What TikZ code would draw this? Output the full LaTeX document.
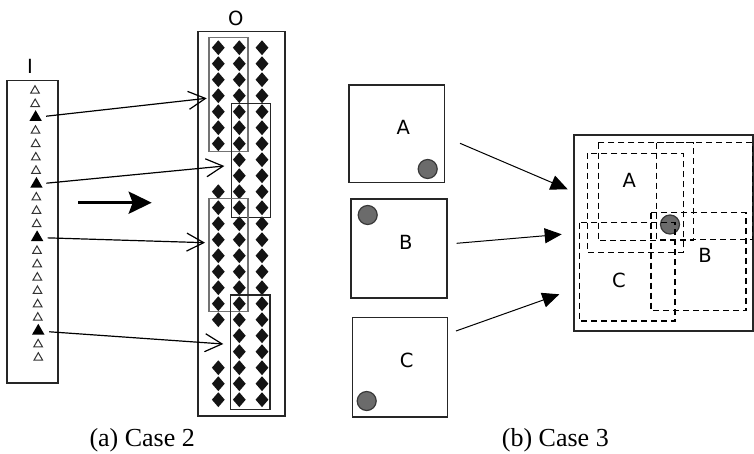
\documentclass[tikz,border=0pt]{standalone}
\usepackage{fontspec}
\setmainfont{Liberation Serif}
\newfontfamily\lblfont{DejaVu Sans}
\usetikzlibrary{arrows.meta,shapes.geometric}

\begin{document}
\begin{tikzpicture}[x=1pt,y=-1pt,
  frame/.style={draw=black!85,line width=1.6pt},
  opentri/.style={regular polygon,regular polygon sides=3,draw=black!80,line width=1pt,minimum size=10pt,inner sep=0pt},
  filltri/.style={regular polygon,regular polygon sides=3,fill=black,minimum size=14.4pt,inner sep=0pt},
  dia/.style={diamond,fill=black!92,minimum width=13pt,minimum height=15pt,inner sep=0pt},
  grayrect/.style={draw=black!55,line width=1.1pt},
  darkrect/.style={draw=black!85,line width=1.1pt},
  link/.style={line width=1.2pt,-{Straight Barb[length=17pt,width=18pt,line width=1.2pt]}},
  bigarrow/.style={line width=3.3pt,-{Stealth[length=23pt,width=22pt,inset=4pt]}},
  merge/.style={line width=1pt,-{Triangle[length=17pt,width=15pt]}},
  win/.style={draw=black,line width=1.4pt,dash pattern=on 6pt off 4pt},
  dot/.style={circle,fill=black!58,draw=black!78,line width=1.2pt,minimum size=19pt,inner sep=0pt},
  lbl/.style={font=\lblfont\fontsize{19.5}{20}\selectfont,inner sep=0pt},
  caption/.style={font=\fontsize{26}{28}\selectfont,anchor=base west,inner sep=0pt}
]
\useasboundingbox (0,0) rectangle (754,454);

% ---------- (a) Case 2 ----------
% input column I
\node[lbl] (lblI) at (30,66) {I};
\draw[frame] (7,80.7) rectangle (58,383);
\foreach \i in {0,1,3,4,5,6,8,9,10,12,13,14,15,16,17,19,20}{
  \pgfmathsetmacro\ty{90.7+13.35*\i}
  \pgfmathsetmacro\tx{35+0.165*\i}
  \node[opentri] (tri-\i) at (\tx,\ty) {};
}
\foreach \i in {2,7,11,18}{
  \pgfmathsetmacro\ty{90.7+13.35*\i}
  \pgfmathsetmacro\tx{35.3+0.165*\i}
  \node[filltri] (tri-\i) at (\tx,\ty) {};
}

% output block O
\node[lbl] (lblO) at (235.7,18) {O};
\draw[frame] (197.7,31.7) rectangle (285,416);
\foreach \r in {0,...,6,9,10,...,17,20,21,22}{
  \node[dia] (d-1-\r) at (218.3,47.7+16*\r) {};
}
\foreach \c/\cx in {2/239.3,3/262}{
  \foreach \r in {0,...,22}{
    \node[dia] (d-\c-\r) at (\cx,47.7+16*\r) {};
  }
}
\draw[grayrect] (209,37.7) rectangle (248,151.7);
\draw[darkrect] (231.3,103.3) rectangle (270.3,217.3);
\draw[grayrect] (209,198.3) rectangle (248,311.7);
\draw[darkrect] (230.3,295) rectangle (270,409.3);

% mapping arrows
\coordinate (t1) at (206.7,98.3);
\coordinate (t2) at (224.3,166);
\coordinate (t3) at (205,242.7);
\coordinate (t4) at (223.3,344);
\draw[link,shorten <=10.5pt] (tri-2.center) -- (t1);
\draw[link,shorten <=10pt] (tri-7.center) -- (t2);
\draw[link,shorten <=10.5pt] (tri-11.center) -- (t3);
\draw[link,shorten <=11pt] (tri-18.center) -- (t4);

\coordinate (bs) at (78.3,202.7);
\coordinate (be) at (151.7,202.7);
\draw[bigarrow] (bs) -- (be);

\node[caption] (capA) at (89.3,446.7) {(a) Case 2};

% ---------- (b) Case 3 ----------
\draw[frame] (349,85) rectangle (444.3,182.7);
\node[lbl] (lblA) at (403.3,127.3) {A};
\node[dot] (dotA) at (427.7,169) {};

\draw[frame] (351,199.3) rectangle (446.7,297.7);
\node[lbl] (lblB) at (405.7,242.7) {B};
\node[dot] (dotB) at (367.7,215) {};

\draw[frame] (352.3,317.3) rectangle (447.3,416.7);
\node[lbl] (lblC) at (406.7,360.7) {C};
\node[dot] (dotC) at (366.7,401) {};

% merged view
\draw[frame] (574,135) rectangle (753,331);
\node[dot] (dotM) at (670,224.5) {};
\draw[win] (598.3,142.7) rectangle (693.3,240.7);
\draw[win] (656.7,142.7) rectangle (752.7,239.3);
\draw[win] (587.3,153.3) rectangle (683.3,252.3);
\draw[win] (651,212.7) rectangle (746,310.7);
\draw[win] (579.3,222.7) rectangle (675,321);
\node[lbl] (mA) at (629.3,180.7) {A};
\node[lbl] (mB) at (705,255) {B};
\node[lbl] (mC) at (619,280) {C};

\coordinate (sA) at (460,143.3);
\coordinate (eA) at (567.7,189.3);
\coordinate (sB) at (456.7,243.3);
\coordinate (eB) at (561.7,234.3);
\coordinate (sC) at (456,331);
\coordinate (eC) at (559.3,294.3);
\draw[merge] (sA) -- (eA);
\draw[merge] (sB) -- (eB);
\draw[merge] (sC) -- (eC);

\node[caption] (capB) at (501.7,446.7) {(b) Case 3};
\end{tikzpicture}
\end{document}
